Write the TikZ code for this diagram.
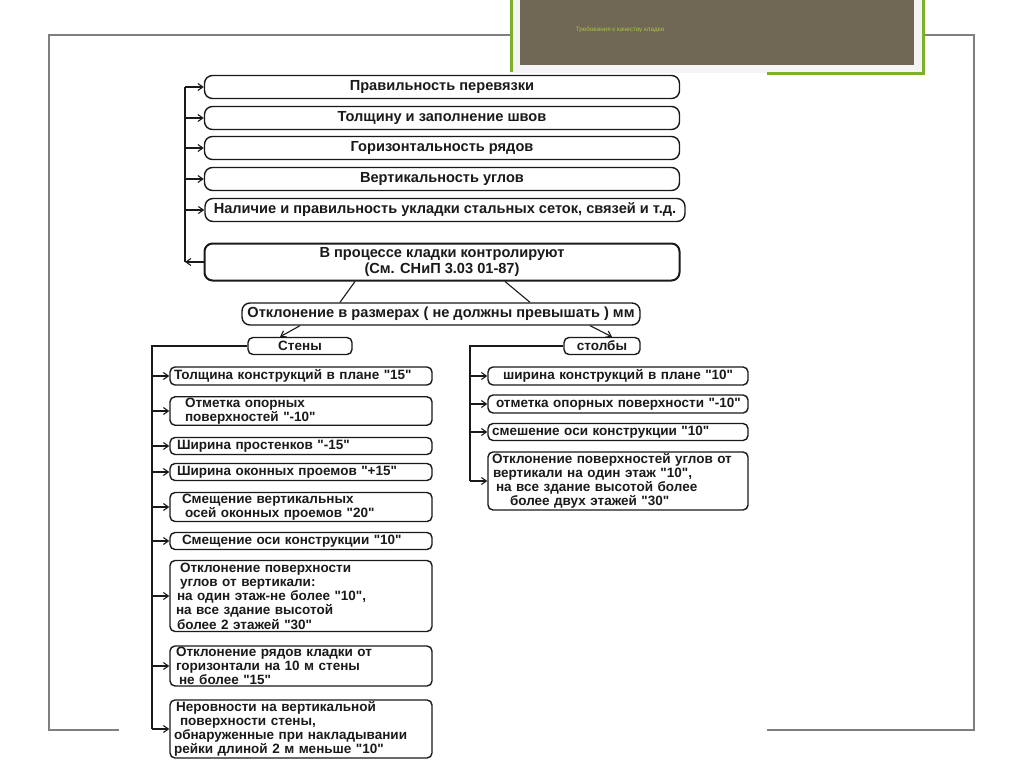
\documentclass[tikz,border=0pt]{standalone}
\usepackage{fontspec}
\setmainfont{Liberation Sans}[Ligatures=TeXOff]
\usetikzlibrary{positioning,arrows.meta,calc}
\definecolor{sink}{HTML}{1A1A1A}
\definecolor{sfrm}{HTML}{7F7F7F}
\definecolor{sbrn}{HTML}{716755}
\definecolor{sgrn}{HTML}{7DB02B}
\definecolor{slgt}{HTML}{F4F4F4}
\definecolor{stit}{HTML}{A4C83A}
\tikzset{
  box/.style   ={rounded corners=5pt, draw=sink, line width=1.4pt, fill=white,
                 inner xsep=4pt, inner ysep=1pt, text=sink,
                 font=\bfseries\fontsize{13.5}{14.2}\selectfont},
  topbox/.style={box, rounded corners=8pt, align=center,
                 minimum width=475pt, minimum height=23pt,
                 font=\bfseries\fontsize{14.6}{16}\selectfont},
  ctrlbox/.style={topbox, line width=2pt, minimum height=37pt},
  lbox/.style  ={box, text width=254pt, align=left, minimum height=#1},
  rbox/.style  ={box, text width=252pt, align=left, minimum height=#1},
  hbox/.style  ={box, align=center, minimum height=17pt},
  flow/.style  ={-{Straight Barb[length=5pt,width=7pt]}, line width=1.1pt, draw=sink},
  wire/.style  ={line width=1.1pt, draw=sink},
  frm/.style   ={line width=1.5pt, draw=sfrm},
}

\begin{document}
\begin{tikzpicture}[x=1pt,y=-1pt]
  \useasboundingbox[fill=white] (0,0) rectangle (1024,767);
  % slide frame and title banner
  \draw[frm] (510,35) -- (49,35) -- (49,730) -- (119,730);
  \draw[frm] (925,35) -- (974,35) -- (974,730) -- (767,730);
  \fill[slgt] (510,0) rectangle (923,73);
  \fill[sbrn] (520,0) rectangle (914,65);
  \draw[sgrn, line width=3pt] (511,0) -- (511,72);
  \draw[sgrn, line width=3pt] (767,74) -- (923,74) -- (923,0);
  \node[text=stit, font=\fontsize{6.3}{7}\selectfont] (title) at (620,30) {Требования к качеству кладки};

  % what is checked during laying
  \node[topbox] (perev) at (442,87) {Правильность перевязки};
  \node[topbox] (shvy) at (442,118) {Толщину и заполнение швов};
  \node[topbox] (ryady) at (442,148) {Горизонтальность рядов};
  \node[topbox] (ugly) at (442,179) {Вертикальность углов};
  \node[topbox, minimum width=480pt] (setki) at (445,210) {Наличие и правильность укладки стальных сеток, связей и т.д.};
  \node[ctrlbox] (ctrl) at (442,262) {В процессе кладки контролируют\\(См. СНиП 3.03 01-87)};
  \coordinate (bus) at (185,87);
  \draw[flow] (ctrl.west) -- (bus |- ctrl.west);
  \draw[wire] (bus |- ctrl.west) -- (bus);
  \foreach \n in {perev,shvy,ryady,ugly,setki}
    \draw[flow] (bus |- \n.west) -- (\n.west);

  % tolerances
  \node[topbox, minimum width=398pt, minimum height=22pt] (otkl) at (441,314) {Отклонение в размерах ( не должны превышать ) мм};
  \draw[wire] ([xshift=-87pt]ctrl.south) -- ([xshift=-101pt]otkl.north);
  \draw[wire] ([xshift=63pt]ctrl.south) -- ([xshift=89pt]otkl.north);
  \node[hbox, minimum width=104pt] (steny) at (300,346) {Стены};
  \node[hbox, minimum width=76pt] (stolby) at (602,346) {столбы};
  \draw[flow] ([xshift=-141pt]otkl.south) -- ([xshift=-20pt]steny.north);
  \draw[flow] ([xshift=149pt]otkl.south) -- ([xshift=10pt]stolby.north);

  % walls
  \node[lbox=18pt] (w1) at (301,376) {Толщина конструкций в плане "15"};
  \node[lbox=28pt] (w2) at (301,411) {\hspace*{11pt}Отметка опорных\\\hspace*{11pt}поверхностей "-10"};
  \node[lbox=17pt] (w3) at (301,446) {\hspace*{3pt}Ширина простенков "-15"};
  \node[lbox=17pt] (w4) at (301,472) {\hspace*{3pt}Ширина оконных проемов "+15"};
  \node[lbox=29pt] (w5) at (301,507) {\hspace*{8pt}Смещение вертикальных\\\hspace*{11pt}осей оконных проемов "20"};
  \node[lbox=17pt] (w6) at (301,541) {\hspace*{8pt}Смещение оси конструкции "10"};
  \node[lbox=71pt] (w7) at (301,596) {\hspace*{6pt}Отклонение поверхности\\\hspace*{6pt}углов от вертикали:\\\hspace*{3pt}на один этаж-не более "10",\\\hspace*{2pt}на все здание высотой\\\hspace*{3pt}более 2 этажей "30"};
  \node[lbox=40pt] (w8) at (301,666) {\hspace*{2pt}Отклонение рядов кладки от\\\hspace*{2pt}горизонтали на 10 м стены\\\hspace*{5pt}не более "15"};
  \node[lbox=58pt] (w9) at (301,729) {\hspace*{2pt}Неровности на  вертикальной\\\hspace*{6pt}поверхности стены,\\обнаруженные при накладывании\\рейки длиной 2 м меньше "10"};
  \coordinate (wbus) at (152,346);
  \draw[wire] (steny.west) -- (wbus) -- (wbus |- w9.west);
  \foreach \n in {w1,w2,w3,w4,w5,w6,w7,w8,w9}
    \draw[flow] (wbus |- \n.west) -- (\n.west);

  % columns
  \node[rbox=18pt] (c1) at (618,376) {\hspace*{11pt}ширина конструкций в плане "10"};
  \node[rbox=18pt] (c2) at (618,404) {\hspace*{4pt}отметка опорных поверхности "-10"};
  \node[rbox=17pt] (c3) at (618,432) {смешение оси конструкции "10"};
  \node[rbox=58pt] (c4) at (618,481) {Отклонение поверхностей углов от\\\hspace*{1pt}вертикали на один этаж "10",\\\hspace*{4pt}на все здание высотой  более\\\hspace*{18pt}более двух этажей "30"};
  \coordinate (cbus) at (470,346);
  \draw[wire] (stolby.west) -- (cbus) -- (cbus |- c4.west);
  \foreach \n in {c1,c2,c3,c4}
    \draw[flow] (cbus |- \n.west) -- (\n.west);
\end{tikzpicture}
\end{document}
